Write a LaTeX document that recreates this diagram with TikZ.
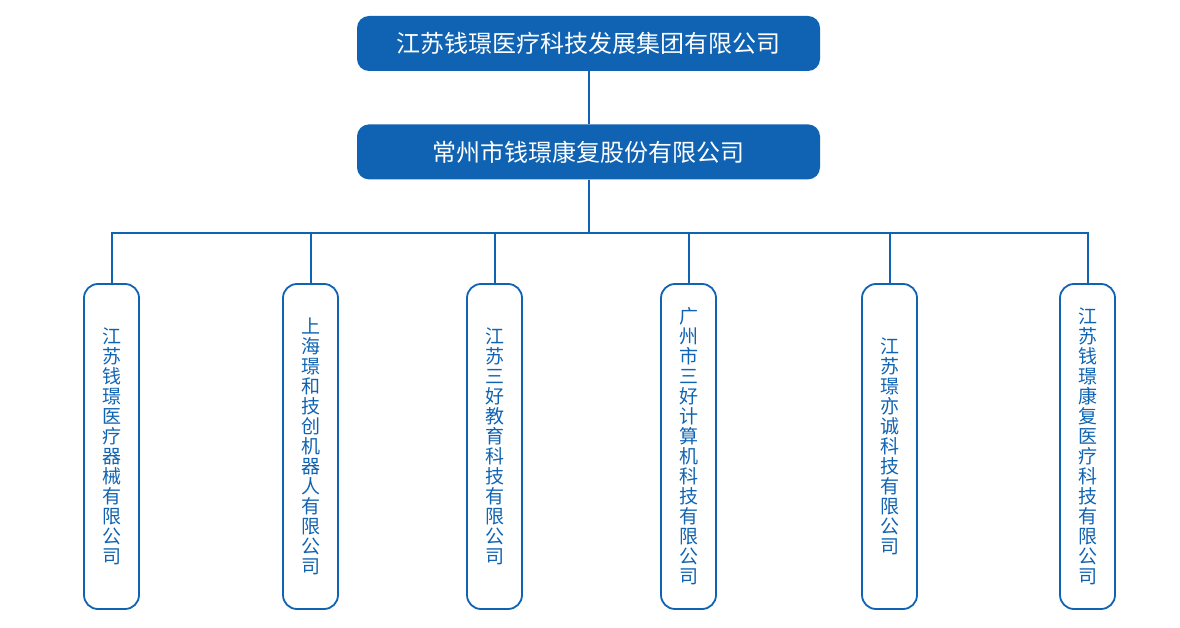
\documentclass[tikz,border=0pt]{standalone}
\usepackage{fontspec}
\setmainfont{Noto Sans CJK SC}
\usetikzlibrary{positioning}
\definecolor{qhblue}{RGB}{16,99,178}

\begin{document}
\begin{tikzpicture}[x=1pt,y=-1pt,node distance=53pt,
  topbox/.style={fill=qhblue,text=white,rounded corners=12pt,minimum width=463pt,minimum height=55pt,font=\fontsize{24}{28}\selectfont},
  subbox/.style={draw=qhblue,line width=1.8pt,rounded corners=14pt,minimum width=55pt,minimum height=325pt,text=qhblue,align=center,font=\fontsize{19}{20}\selectfont},
  link/.style={draw=qhblue,line width=2pt}]
\useasboundingbox (0,0) rectangle (1180,628);
\node[topbox] (group) at (588.5,43.5) {江苏钱璟医疗科技发展集团有限公司};
\node[topbox,below=of group] (parent) {常州市钱璟康复股份有限公司};
% subsidiaries
\node[subbox] (c1) at (111.5,446.5) {江\\苏\\钱\\璟\\医\\疗\\器\\械\\有\\限\\公\\司};
\node[subbox] (c2) at (310.5,446.5) {上\\海\\璟\\和\\技\\创\\机\\器\\人\\有\\限\\公\\司};
\node[subbox] (c3) at (494.5,446.5) {江\\苏\\三\\好\\教\\育\\科\\技\\有\\限\\公\\司};
\node[subbox] (c4) at (688.5,446.5) {广\\州\\市\\三\\好\\计\\算\\机\\科\\技\\有\\限\\公\\司};
\node[subbox] (c5) at (889.5,446.5) {江\\苏\\璟\\亦\\诚\\科\\技\\有\\限\\公\\司};
\node[subbox] (c6) at (1087.5,446.5) {江\\苏\\钱\\璟\\康\\复\\医\\疗\\科\\技\\有\\限\\公\\司};
\draw[link] (group) -- (parent);
\foreach \i in {1,...,6}
  \draw[link] (parent.south) -- ++(0,53) -| (c\i.north);
\end{tikzpicture}
\end{document}
